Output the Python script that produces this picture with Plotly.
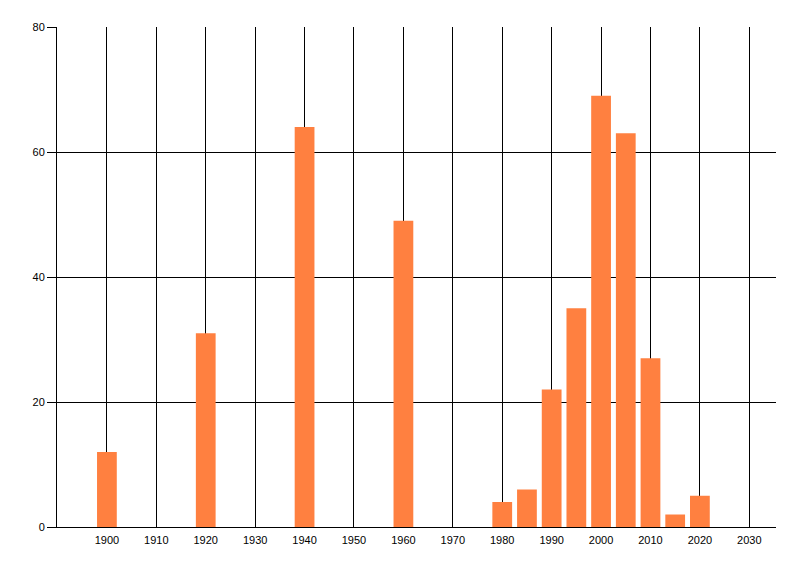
import plotly.graph_objects as go

years = [1900, 1920, 1940, 1960, 1980, 1985, 1990, 1995, 2000, 2005, 2010, 2015, 2020]
counts = [12, 31, 64, 49, 4, 6, 22, 35, 69, 63, 27, 2, 5]
x_ticks = list(range(1900, 2031, 10))
y_ticks = [0, 20, 40, 60, 80]

fig = go.Figure(go.Bar(x=years, y=counts, width=4, marker=dict(color="#FF8040", line=dict(width=0))))

fig.update_layout(
    width=800, height=576,
    margin=dict(l=49, r=32, t=19, b=57),
    paper_bgcolor="white", plot_bgcolor="white",
    font=dict(family="Liberation Sans", size=11, color="black"),
    showlegend=False,
)
fig.update_xaxes(
    range=[1889.9, 2035.4], tickvals=x_ticks, ticktext=[str(v) for v in x_ticks],
    showgrid=True, gridcolor="black", gridwidth=1,
    showline=True, linecolor="black", linewidth=1,
    ticks="outside", ticklen=3, tickcolor="rgba(0,0,0,0)", zeroline=False,
)
fig.update_yaxes(
    range=[0, 80], tickvals=y_ticks,
    showgrid=True, gridcolor="black", gridwidth=1,
    showline=True, linecolor="black", linewidth=1,
    ticks="outside", ticklen=9, tickcolor="black", zeroline=False,
)
fig.write_html("out.html")
